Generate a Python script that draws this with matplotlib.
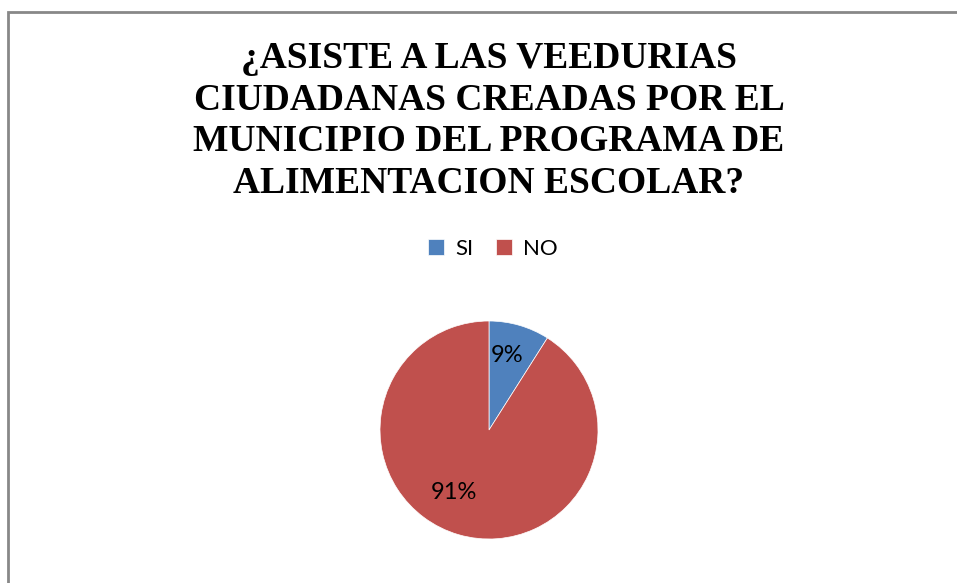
import matplotlib.pyplot as plt
from matplotlib.patches import Rectangle

TITLE = "¿ASISTE A LAS VEEDURIAS\nCIUDADANAS CREADAS POR EL\nMUNICIPIO DEL PROGRAMA DE\nALIMENTACION ESCOLAR?"
categories = ["SI", "NO"]
values = [9, 91]
colors = ["#4F81BD", "#C0504D"]

fig = plt.figure(figsize=(9.57, 5.83), dpi=100)

# chart frame (extends past the right/bottom edges of the image)
fig.patches.append(Rectangle((8 / 957, -0.1), 1.2, 1 - 12 / 583 + 0.1,
                             transform=fig.transFigure, fill=False,
                             edgecolor="#888888", linewidth=2))

fig.text(489 / 957, 1 - 121 / 583, TITLE, ha="center", va="center",
         family="Liberation Serif", weight="bold", fontsize=27, linespacing=1.24)

r = 109
ax = fig.add_axes([(489 - r) / 957, (583 - 430 - r) / 583, 2 * r / 957, 2 * r / 583])
wedges, texts, autotexts = ax.pie(values, colors=colors, startangle=90, counterclock=False,
                                  autopct="%1.0f%%", pctdistance=0.6,
                                  wedgeprops=dict(edgecolor="white", linewidth=0.5),
                                  textprops=dict(family="Lato", fontsize=17, color="black"))
ax.set_xlim(-1, 1)
ax.set_ylim(-1, 1)
ax.set_aspect("equal")
autotexts[0].set_position((0.17, 0.68))
autotexts[1].set_position((-0.32, -0.57))

fig.legend(wedges, categories, loc="center", bbox_to_anchor=(493 / 957, 1 - 249 / 583),
           ncol=2, frameon=False, prop=dict(family="Lato", size=16),
           handlelength=0.7, handleheight=0.7, handletextpad=0.5, columnspacing=1.05)

fig.savefig("out.png", dpi=100)
